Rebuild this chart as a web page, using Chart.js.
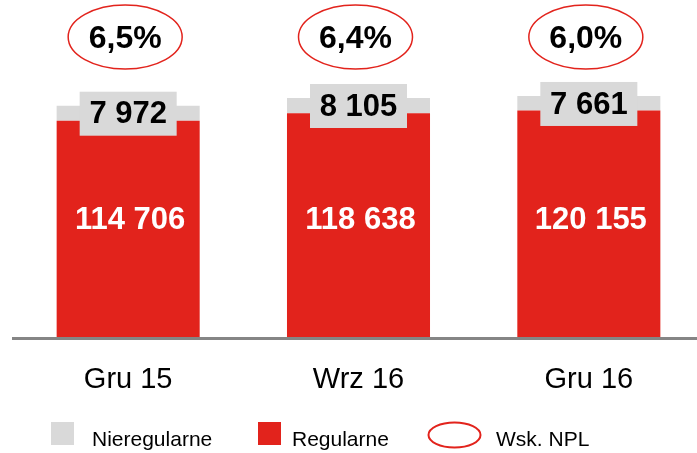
<!DOCTYPE html>
<html>
<head>
<meta charset="utf-8">
<style>
  html, body { margin: 0; padding: 0; background: #fff; overflow: hidden; }
  #wrap { width: 697px; height: 453px; overflow: hidden; }
</style>
<script src="https://cdn.jsdelivr.net/npm/chart.js@4.4.0/dist/chart.umd.min.js"></script>
</head>
<body>
<div id="wrap"><canvas id="npl" width="704" height="453"></canvas></div>
<script>
const periods = ['Gru 15', 'Wrz 16', 'Gru 16'];
const regularne = [114706, 118638, 120155];
const nieregularne = [7972, 8105, 7661];
const nplRatio = [6.5, 6.4, 6.0];

const RED = '#e2231c';
const GREY = '#d9d9d9';
const FONT = "'Liberation Sans', Arial, sans-serif";

const fmt = v => String(v).replace(/\B(?=(\d{3})+(?!\d))/g, ' ');
const pct = v => v.toFixed(1).replace('.', ',') + '%';

// value labels, grey tabs and NPL ellipses over each stack
const barLabels = {
  id: 'barLabels',
  afterDatasetsDraw(chart) {
    const ctx = chart.ctx;
    const red = chart.getDatasetMeta(0).data;
    const grey = chart.getDatasetMeta(1).data;
    ctx.save();
    ctx.textAlign = 'center';
    ctx.textBaseline = 'middle';
    red.forEach((bar, i) => {
      const x = bar.x;

      ctx.fillStyle = '#fff';
      ctx.font = 'bold 31px ' + FONT;
      ctx.fillText(fmt(regularne[i]), x + 2, chart.chartArea.bottom - 118);

      const top = grey[i].y - 14;
      ctx.fillStyle = GREY;
      ctx.fillRect(x - 48.5, top, 97, 44);
      ctx.fillStyle = '#000';
      ctx.font = 'bold 31px ' + FONT;
      ctx.fillText(fmt(nieregularne[i]), x, top + 23);

      ctx.beginPath();
      ctx.ellipse(x - 3, 37, 57, 32, 0, 0, Math.PI * 2);
      ctx.strokeStyle = RED;
      ctx.lineWidth = 1.5;
      ctx.stroke();
      ctx.fillStyle = '#000';
      ctx.font = 'bold 32px ' + FONT;
      ctx.fillText(pct(nplRatio[i]), x - 3, 39);
    });
    ctx.restore();
  }
};

// legend row at the bottom: two swatches and the ellipse marker
const legendRow = {
  id: 'legendRow',
  afterDraw(chart) {
    const ctx = chart.ctx;
    const items = [
      { text: 'Nieregularne', mark: 'box', color: GREY, mx: 51, tx: 92 },
      { text: 'Regularne', mark: 'box', color: RED, mx: 258, tx: 292 },
      { text: 'Wsk. NPL', mark: 'ring', color: RED, mx: 428, tx: 496 }
    ];
    ctx.save();
    ctx.font = '21px ' + FONT;
    ctx.textAlign = 'left';
    ctx.textBaseline = 'alphabetic';
    items.forEach(it => {
      if (it.mark === 'box') {
        ctx.fillStyle = it.color;
        ctx.fillRect(it.mx, 422, 23, 23);
      } else {
        ctx.beginPath();
        ctx.ellipse(it.mx + 26.5, 435, 26, 12.5, 0, 0, Math.PI * 2);
        ctx.strokeStyle = it.color;
        ctx.lineWidth = 2;
        ctx.stroke();
      }
      ctx.fillStyle = '#000';
      ctx.fillText(it.text, it.tx, 446);
    });
    ctx.restore();
  }
};

new Chart(document.getElementById('npl'), {
  type: 'bar',
  data: {
    labels: periods,
    datasets: [
      { label: 'Regularne', data: regularne, backgroundColor: RED, stack: 's' },
      { label: 'Nieregularne', data: nieregularne, backgroundColor: GREY, stack: 's' }
    ]
  },
  options: {
    responsive: false,
    animation: false,
    devicePixelRatio: 1,
    barPercentage: 0.621,
    categoryPercentage: 1,
    layout: { padding: { left: 13, right: 0, top: 0, bottom: 0 } },
    plugins: { legend: { display: false }, tooltip: { enabled: false } },
    scales: {
      x: {
        stacked: true,
        grid: { display: false },
        border: { color: '#858585', width: 3, z: 1 },
        ticks: { color: '#000', padding: 17, font: { size: 29, family: FONT } },
        afterFit(s) { s.height = 115; }
      },
      y: {
        stacked: true,
        display: false,
        min: 0,
        max: 178500
      }
    }
  },
  plugins: [barLabels, legendRow]
});
</script>
</body>
</html>
